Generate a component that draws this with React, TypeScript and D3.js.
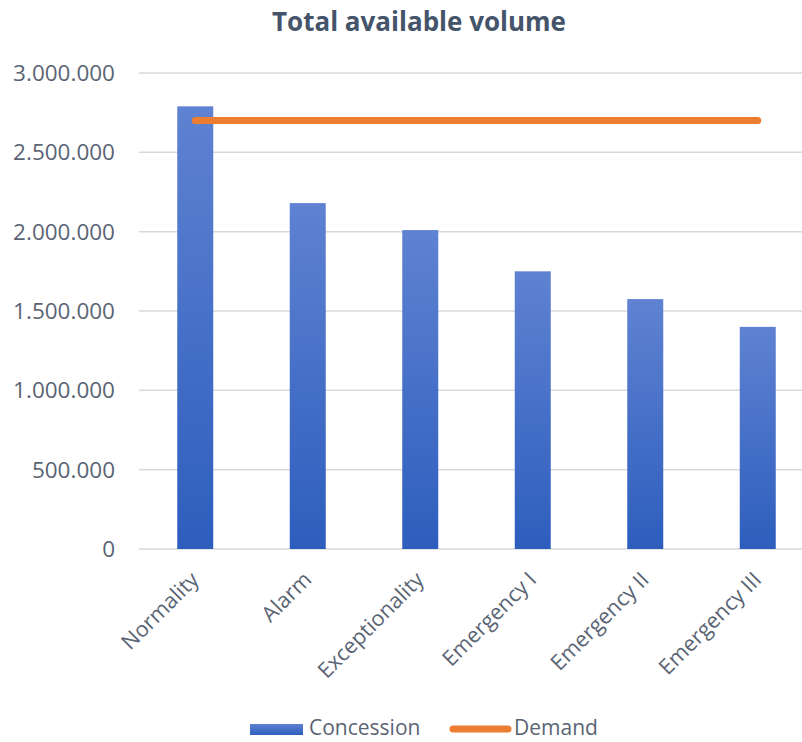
import React from "react";
import * as d3 from "d3";

const categories = ["Normality", "Alarm", "Exceptionality", "Emergency I", "Emergency II", "Emergency III"];
const concession = [2790000, 2180000, 2010000, 1750000, 1575000, 1400000];
const demand = [2700000, 2700000, 2700000, 2700000, 2700000, 2700000];
const yTicks = [0, 500000, 1000000, 1500000, 2000000, 2500000, 3000000];
const title = "Total available volume";
const seriesNames = ["Concession", "Demand"];

const W = 802;
const H = 742;
const FONT = "'Open Sans', sans-serif";
const LABEL = "#5a6474";

export default function App() {
  const x = d3.scaleBand<string>().domain(categories).range([139, 814]).paddingInner(0.68).paddingOuter(0.34);
  const y = d3.scaleLinear().domain([0, 3000000]).range([549, 73]);
  const fmt = (v: number) => d3.format(",")(v).replace(/,/g, ".");
  const line = d3
    .line<number>()
    .x((_, i) => (x(categories[i]) as number) + x.bandwidth() / 2)
    .y((d) => y(d));

  return (
    <svg width={W} height={H} style={{ position: "absolute", left: 0, top: 0, background: "#fff" }} fontFamily={FONT}>
      <defs>
        <linearGradient id="barGrad" x1="0" y1="0" x2="0" y2="1">
          <stop offset="0%" stopColor="#5f82d2" />
          <stop offset="100%" stopColor="#2d5ebd" />
        </linearGradient>
      </defs>
      <text x={419} y={31} textAnchor="middle" fontSize={26} fontWeight="bold" fill="#44546a">
        {title}
      </text>
      {yTicks.map((t) => (
        <g key={t}>
          <line x1={139} x2={W} y1={y(t)} y2={y(t)} stroke="#d9d9d9" strokeWidth={1.5} />
          <text x={115} y={y(t)} dy="0.35em" textAnchor="end" fontSize={22.5} fill={LABEL}>
            {fmt(t)}
          </text>
        </g>
      ))}
      {concession.map((v, i) => (
        <rect
          key={categories[i]}
          x={x(categories[i])}
          y={y(v)}
          width={x.bandwidth()}
          height={y(0) - y(v)}
          fill="url(#barGrad)"
        />
      ))}
      <path d={line(demand) || ""} fill="none" stroke="#ed7d31" strokeWidth={7} strokeLinecap="round" />
      {categories.map((c) => {
        const cx = (x(c) as number) + x.bandwidth() / 2;
        return (
          <text
            key={c}
            transform={`translate(${cx + 5},${581}) rotate(-45)`}
            textAnchor="end"
            fontSize={21.5}
            fill={LABEL}
          >
            {c}
          </text>
        );
      })}
      <g>
        <rect x={250} y={724} width={53} height={11} fill="url(#barGrad)" />
        <text x={309} y={735} fontSize={21} fill={LABEL}>
          {seriesNames[0]}
        </text>
        <line x1={453} x2={508} y1={729} y2={729} stroke="#ed7d31" strokeWidth={7} strokeLinecap="round" />
        <text x={514} y={735} fontSize={21} fill={LABEL}>
          {seriesNames[1]}
        </text>
      </g>
    </svg>
  );
}
